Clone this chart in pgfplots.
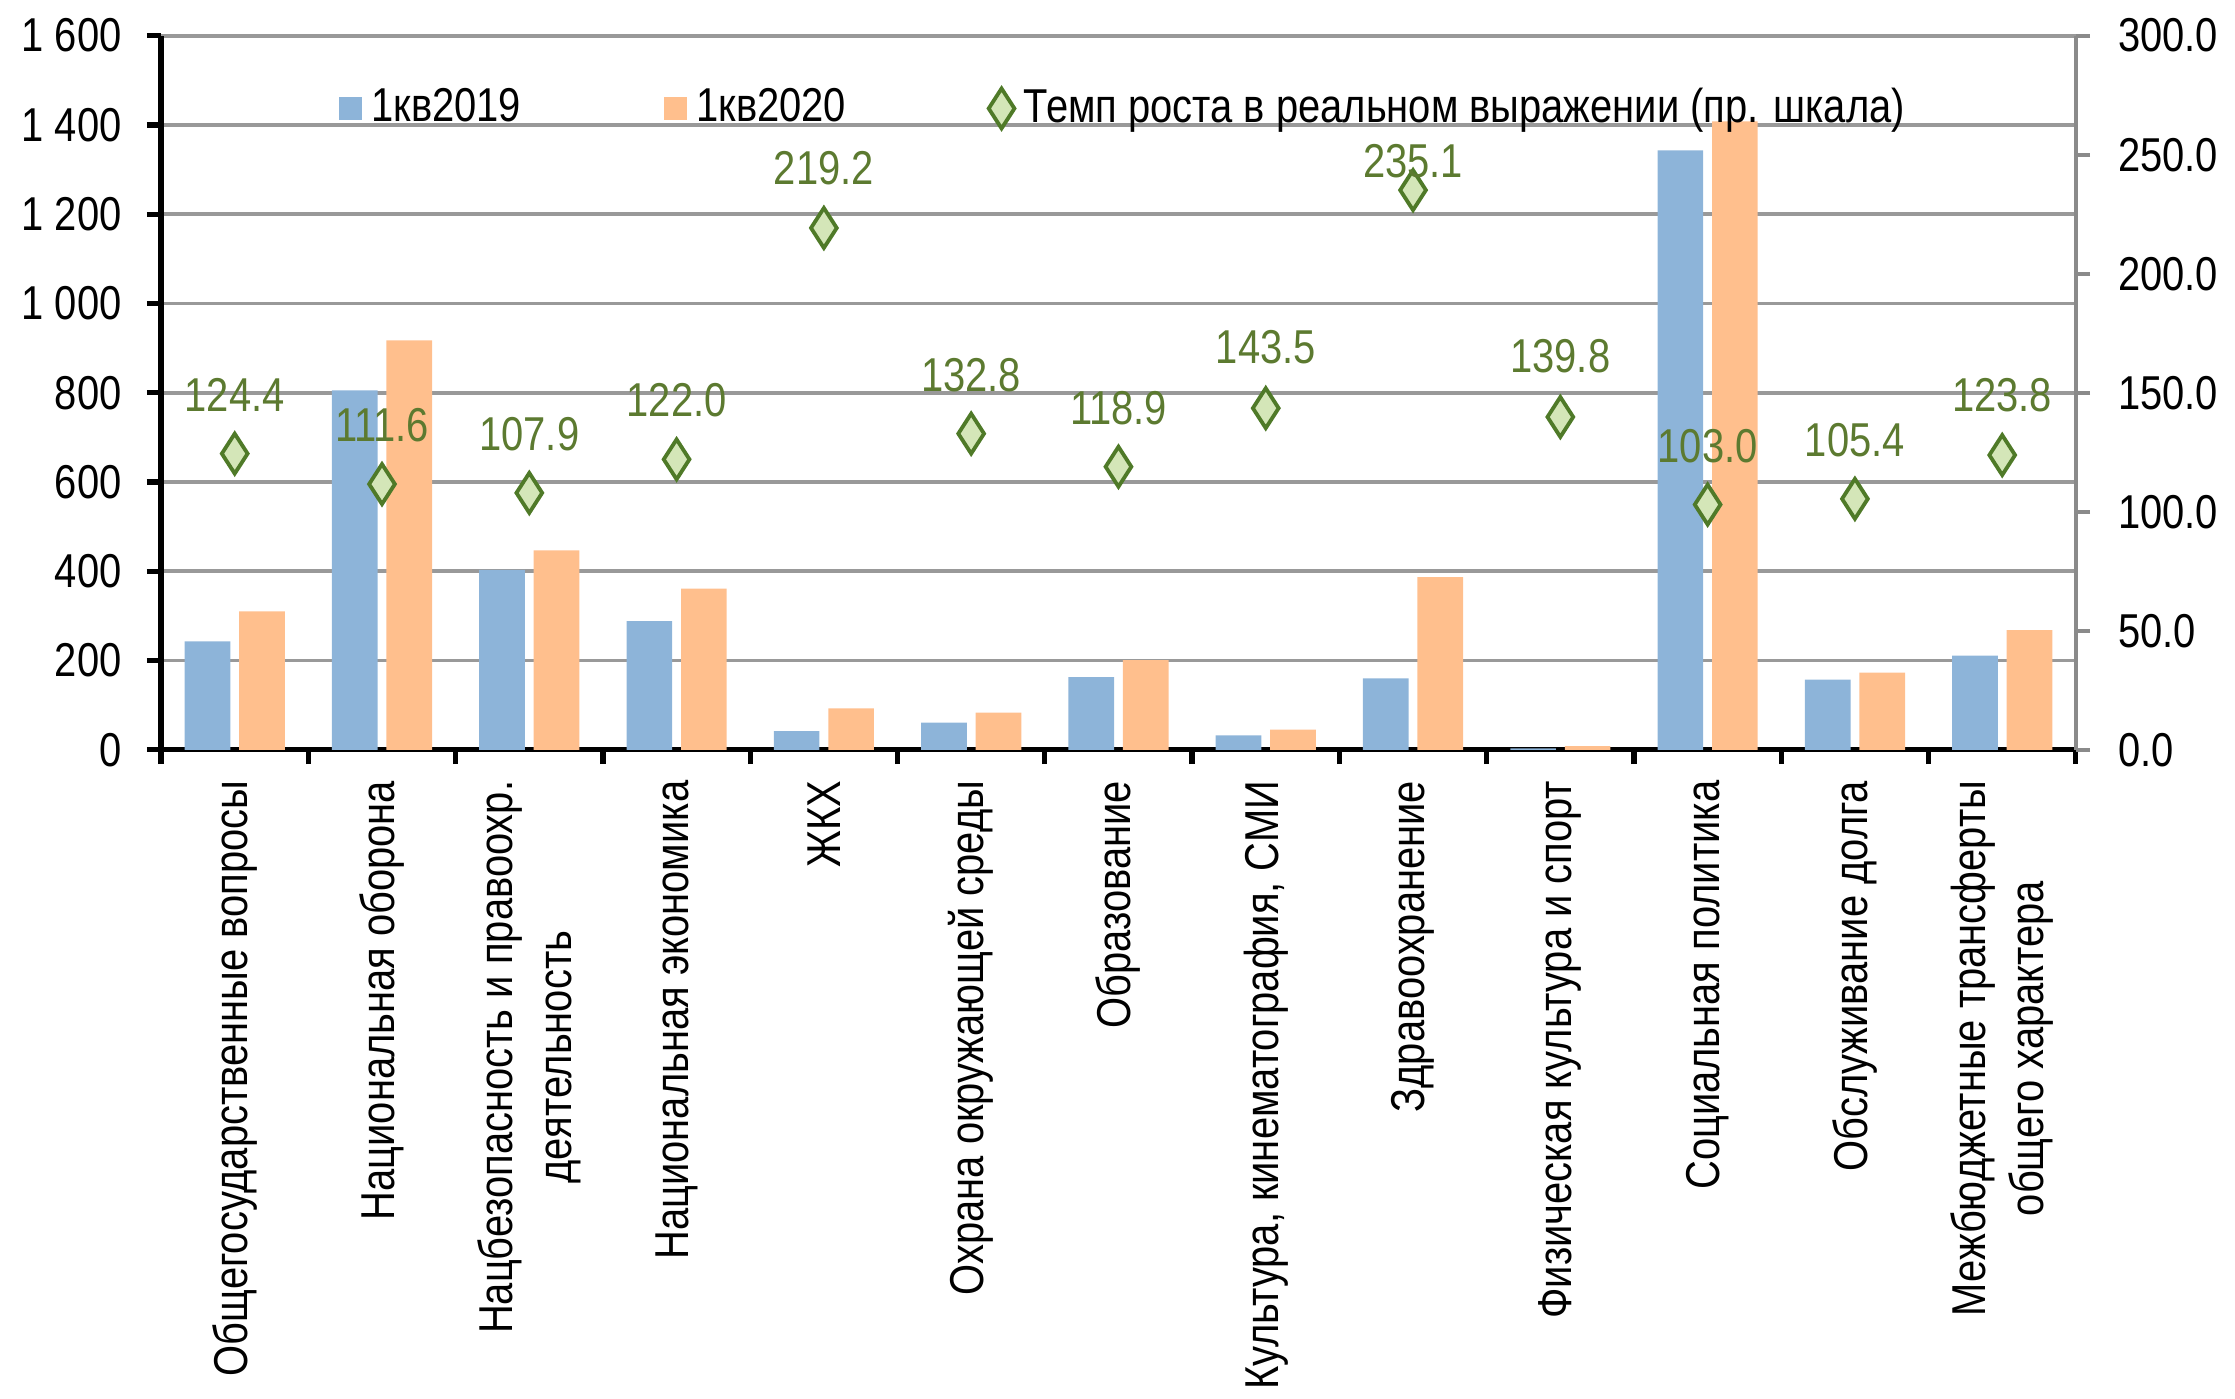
\documentclass[border=0pt]{standalone}
\usepackage{fontspec}
\setmainfont{Liberation Sans}[FakeStretch=0.84]
\usepackage{pgfplots}
\usepackage{pgfplotstable}
\pgfplotsset{compat=1.18}

\definecolor{c19}{HTML}{8DB4D9}
\definecolor{c20}{HTML}{FFBF8D}
\definecolor{mfill}{HTML}{D4E6B8}
\definecolor{mdraw}{HTML}{4F7A28}
\definecolor{vtext}{HTML}{5C7A30}
\definecolor{gridc}{HTML}{999999}

\pgfplotsset{
  diamleg/.style={legend image code/.code={\draw[##1] plot coordinates {(2.5pt,0pt)};}},
  boxleg/.style={legend image code/.code={\fill[#1] (0pt,-2.25pt) rectangle (4.5pt,2.25pt);}},
}

% x, bars (left scale), growth rate (right scale), label offset in pt
\pgfplotstableread{
x  q19  q20  rate  off
0  243  310  124.4 12.4
1  805  917  111.6 12.4
2  403  447  107.9 12.4
3  288  361  122.0 12.4
4  42   93   219.2 12.6
5  61   83   132.8 12.4
6  163  201  118.9 12.4
7  32   45   143.5 12.8
8  160  387  235.1 6.0
9  3    8    139.8 12.8
10 1343 1408 103.0 12.4
11 157  173  105.4 12.4
12 211  268  123.8 12.6
}\budget

\newcommand\lbl{\fontsize{10}{12.3}\selectfont}

\begin{document}
\begin{tikzpicture}
\useasboundingbox (-33.9pt,-136.5pt) rectangle (436.5pt,157.8pt);
\begin{axis}[
  at={(0,0)}, anchor=south west,
  width=403pt, height=150.3pt, scale only axis,
  xmin=-0.5, xmax=12.5, ymin=0, ymax=1600,
  axis lines*=left,
  axis line style={black, line width=1.1pt},
  tick align=outside,
  major tick length=3pt, minor tick length=3pt,
  ytick={0,200,...,1600},
  yticklabels={0,200,400,600,800,1 000,1 200,1 400,1 600},
  ytick style={black, line width=1.1pt},
  ymajorgrids, grid style={gridc, line width=0.8pt},
  xtick={0,...,12},
  major x tick style={draw=none},
  minor xtick={-0.5,0.5,...,12.5},
  minor x tick style={black, line width=1.1pt},
  xticklabels={
    {Общегосударственные вопросы},
    {Национальная оборона},
    {Нацбезопасность и правоохр.\\деятельность},
    {Национальная экономика},
    {ЖКХ},
    {Охрана окружающей среды},
    {Образование},
    {Культура, кинематография, СМИ},
    {Здравоохранение},
    {Физическая культура и спорт},
    {Социальная политика},
    {Обслуживание долга},
    {Межбюджетные трансферты\\общего характера}},
  xticklabel style={rotate=90, anchor=east, align=center, font=\lbl},
  yticklabel style={font=\lbl, xshift=-1.8pt},
  clip=false,
]
\addplot[ybar, bar width=0.31, bar shift=-0.185, fill=c19, draw=none] table[x=x, y=q19] {\budget};
\addplot[ybar, bar width=0.31, bar shift=0.185, fill=c20, draw=none] table[x=x, y=q20] {\budget};
\end{axis}

\begin{axis}[
  at={(0,0)}, anchor=south west,
  width=403pt, height=150.3pt, scale only axis,
  xmin=-0.5, xmax=12.5, ymin=0, ymax=300,
  axis x line=none, axis y line*=right,
  y axis line style={gridc!90!black, line width=0.8pt},
  tick align=outside, major tick length=3pt,
  ytick={0,50,...,300},
  ytick style={gridc!90!black, line width=0.8pt},
  yticklabel style={font=\lbl, xshift=2.4pt, /pgf/number format/.cd, fixed, fixed zerofill, precision=1, assume math mode=true},
  legend style={draw=none, fill=none, at={(rel axis cs:0.0923,0.898)}, anchor=west,
    inner sep=0pt, font=\lbl, /tikz/every even column/.append style={column sep=28pt}},
  legend columns=3, legend cell align=left,
  clip=false,
]
\addlegendimage{boxleg=c19}
\addlegendimage{boxleg=c20}
\addplot[only marks, mark=diamond*, mark size=4.2pt,
  mark options={xscale=0.86, fill=mfill, draw=mdraw, line width=0.8pt},
  diamleg,
  point meta=y,
  visualization depends on={\thisrow{off} \as \off},
  nodes near coords={\pgfmathprintnumber[fixed,fixed zerofill,precision=1,assume math mode=true]{\pgfplotspointmeta}},
  nodes near coords style={font=\lbl, text=vtext, anchor=center, yshift=\off*1pt},
] table[x=x, y=rate] {\budget};
\legend{1кв2019,1кв2020,Темп роста в реальном выражении (пр. шкала)}
\end{axis}
\end{tikzpicture}
\end{document}
